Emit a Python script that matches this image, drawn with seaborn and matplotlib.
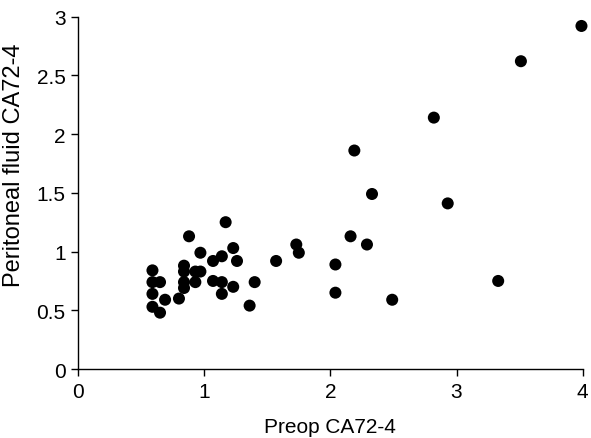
import numpy as np
import pandas as pd
import matplotlib
matplotlib.use('Agg')
import matplotlib.pyplot as plt
import seaborn as sns

sns.set_style('ticks')
plt.rcParams['font.family'] = ['Liberation Sans', 'DejaVu Sans']
plt.rcParams['text.color'] = 'black'
plt.rcParams['axes.labelcolor'] = 'black'
plt.rcParams['xtick.color'] = 'black'
plt.rcParams['ytick.color'] = 'black'

# values
preop = [0.59, 0.59, 0.65, 0.59, 0.59, 0.65, 0.69, 0.80, 0.84, 0.84, 0.84, 0.84,
         0.88, 0.93, 0.93, 0.97, 0.97, 1.07, 1.07, 1.14, 1.14, 1.14, 1.17, 1.23,
         1.23, 1.26, 1.36, 1.40, 1.57, 1.73, 1.75, 2.04, 2.04, 2.16, 2.19, 2.29,
         2.33, 2.49, 2.82, 2.93, 3.33, 3.51, 3.99]
peritoneal = [0.84, 0.74, 0.74, 0.64, 0.53, 0.48, 0.59, 0.60, 0.88, 0.83, 0.74, 0.69,
              1.13, 0.83, 0.74, 0.99, 0.83, 0.92, 0.75, 0.96, 0.74, 0.64, 1.25, 1.03,
              0.70, 0.92, 0.54, 0.74, 0.92, 1.06, 0.99, 0.89, 0.65, 1.13, 1.86, 1.06,
              1.49, 0.59, 2.14, 1.41, 0.75, 2.62, 2.92]

df = pd.DataFrame({'Preop CA72-4': preop, 'Peritoneal fluid CA72-4': peritoneal})

fig = plt.figure(figsize=(5.91, 4.39), dpi=100)
ax = fig.add_axes([0.132, 0.157, 0.854, 0.803])
sns.scatterplot(data=df, x='Preop CA72-4', y='Peritoneal fluid CA72-4', ax=ax,
                color='black', s=75, edgecolor='none', clip_on=False)

ax.set_xlim(0, 4)
ax.set_ylim(0, 3)
ax.set_xticks([0, 1, 2, 3, 4])
ax.set_xticklabels(['0', '1', '2', '3', '4'])
ax.set_yticks([0, 0.5, 1, 1.5, 2, 2.5, 3])
ax.set_yticklabels(['0', '0.5', '1', '1.5', '2', '2.5', '3'])
ax.tick_params(labelsize=15, length=5, width=1, pad=4)
ax.set_xlabel('Preop CA72-4', fontsize=15, labelpad=12)
ax.set_ylabel('Peritoneal fluid CA72-4', fontsize=17)
ax.yaxis.set_label_coords(-0.105, 0.58)
sns.despine(ax=ax)
for sp in ax.spines.values():
    sp.set_color('black')
    sp.set_linewidth(1)

fig.savefig('out.png', dpi=100)
